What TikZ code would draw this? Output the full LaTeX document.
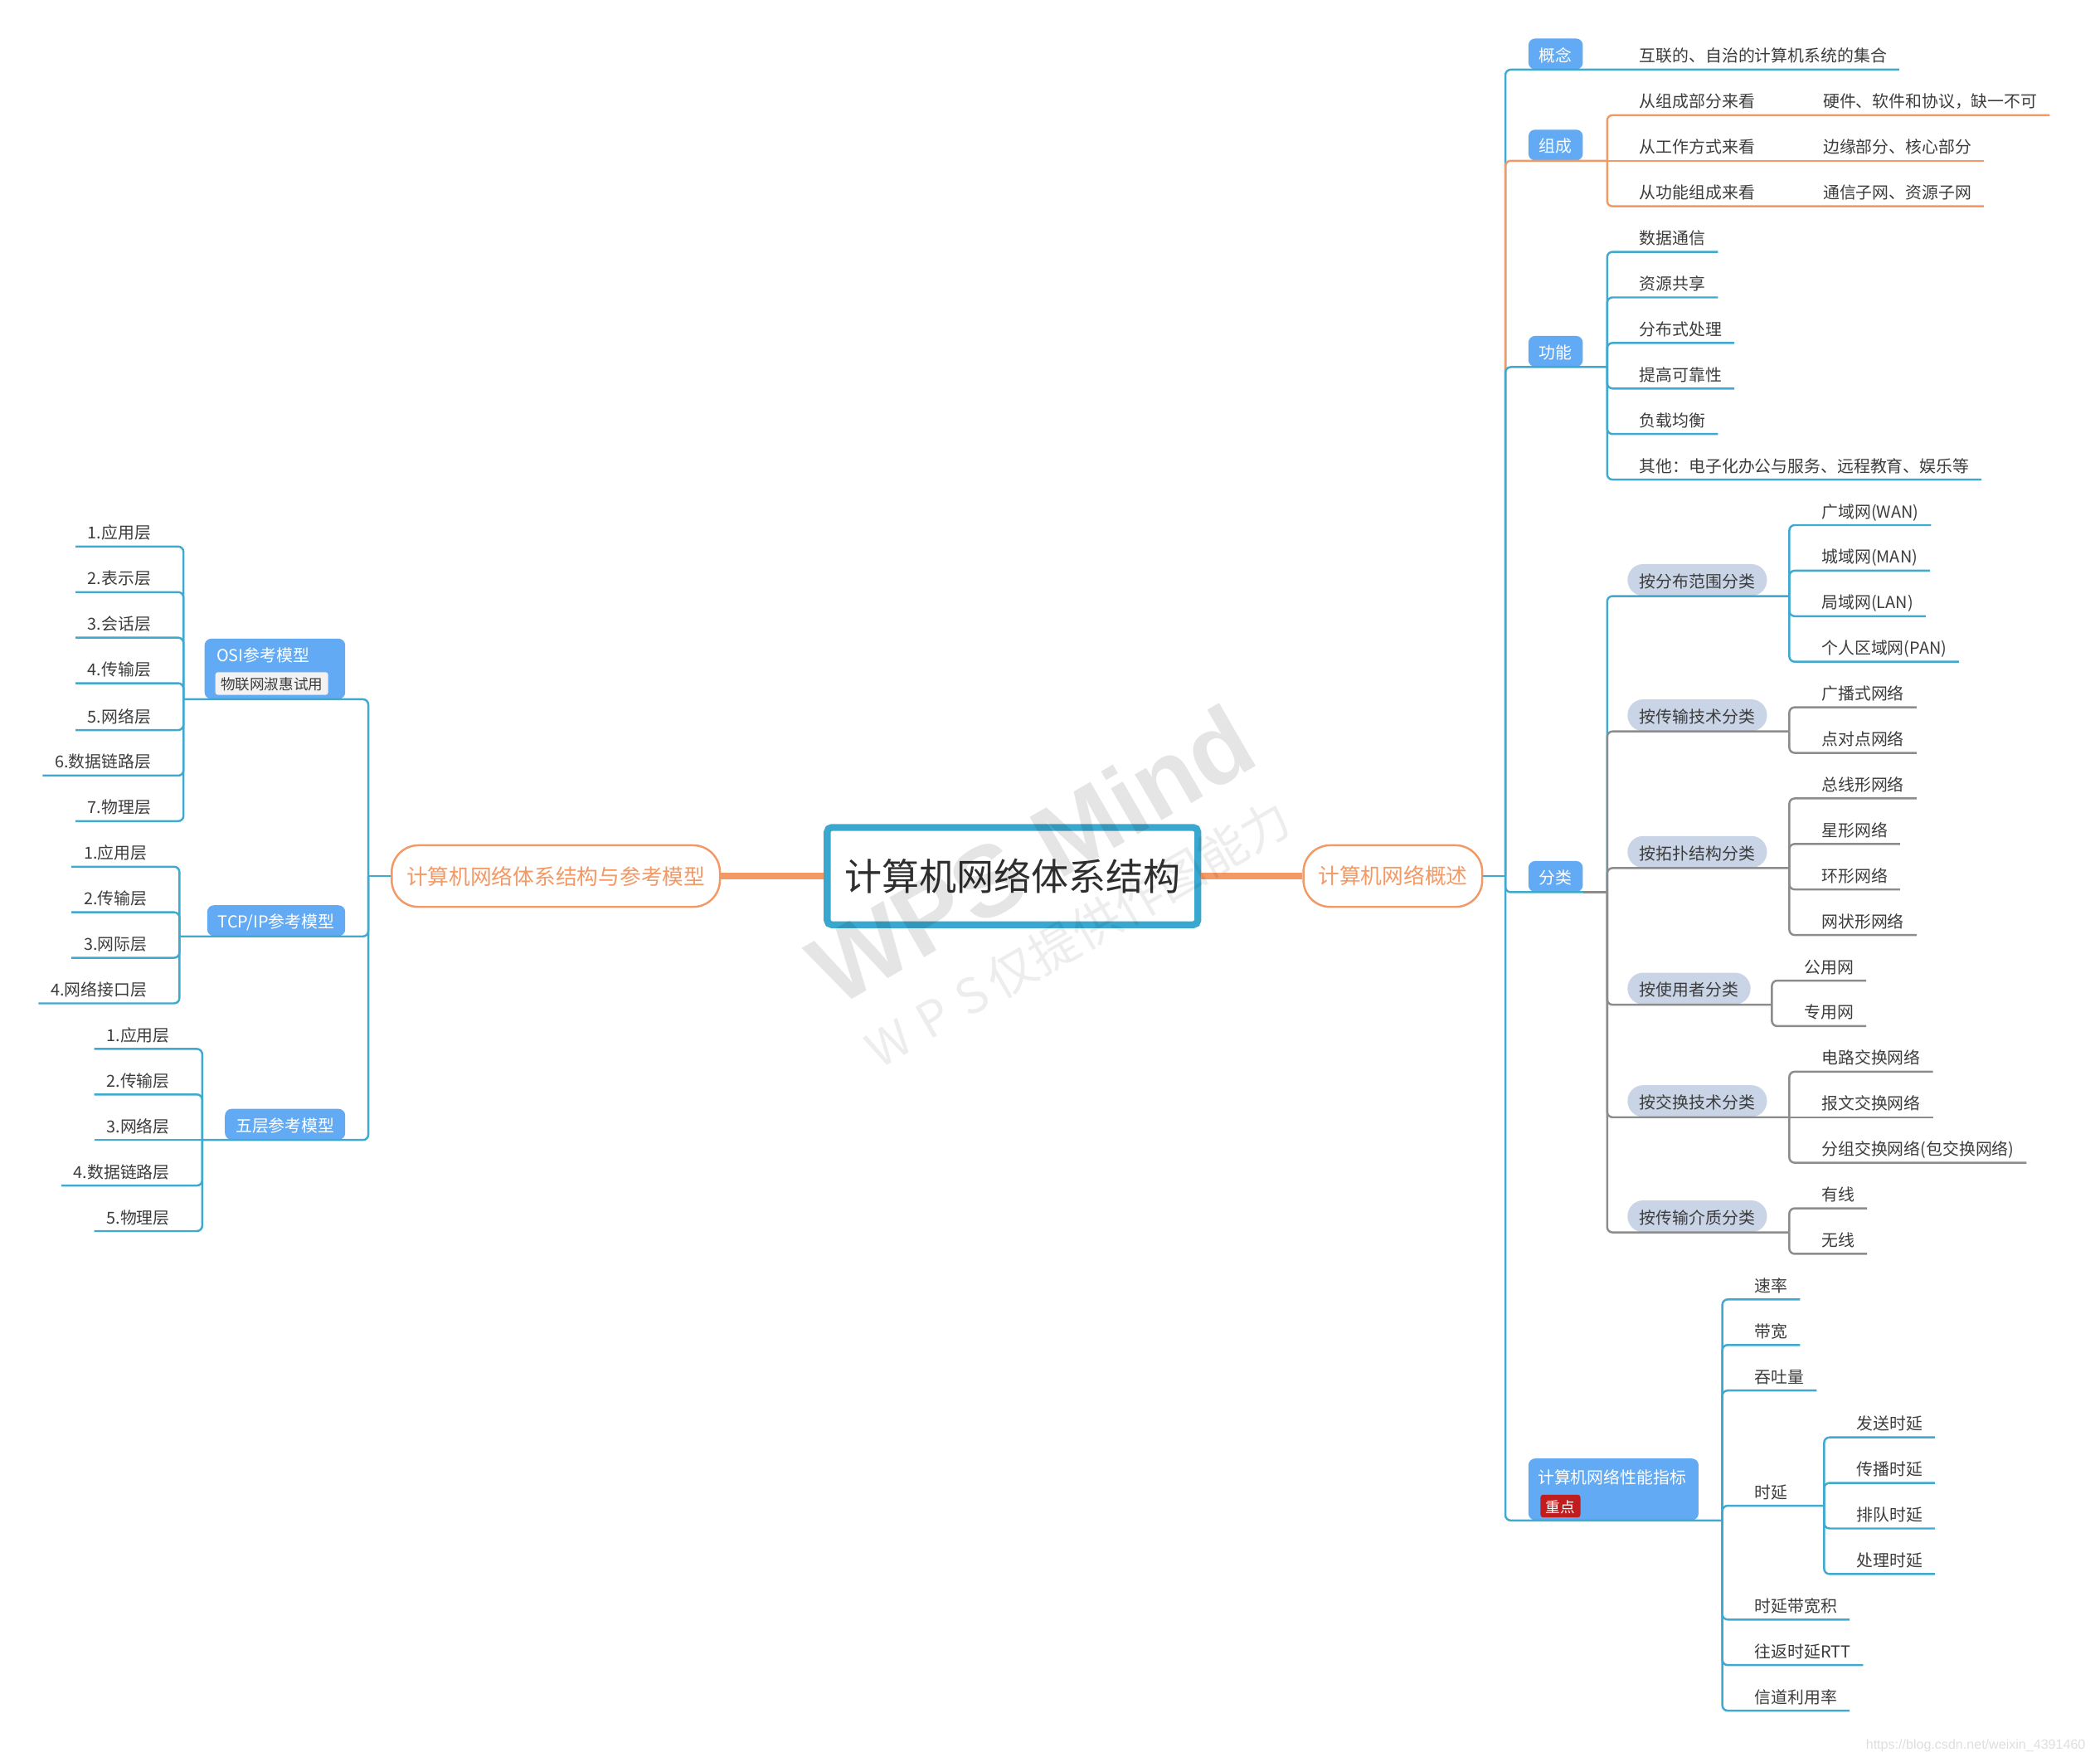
\documentclass[tikz,border=0pt]{standalone}
\usepackage{fontspec}
\setmainfont{Noto Sans CJK SC}
\newfontfamily\wmlatin{Liberation Sans}
\usetikzlibrary{positioning}
\definecolor{lineblue}{RGB}{64,169,208}
\definecolor{lineorange}{RGB}{242,153,101}
\definecolor{linegray}{RGB}{140,140,140}
\definecolor{boxblue}{RGB}{99,170,245}
\definecolor{pillblue}{RGB}{201,212,230}
\definecolor{txtgray}{RGB}{60,60,60}
\definecolor{rootblue}{RGB}{58,168,206}
\definecolor{badgered}{RGB}{192,30,30}
\definecolor{badgegray}{RGB}{242,242,242}
\begin{document}
\begin{tikzpicture}[x=0.03cm,y=-0.03cm,
		leaf/.style={font=\fontsize{10.5}{12}\selectfont, text=txtgray, inner xsep=0.27cm, inner ysep=0.08cm, text height=0.3cm, text depth=0.08cm},
		rleaf/.style={leaf, anchor=south west},
		lleaf/.style={leaf, anchor=south east},
		topic/.style={fill=boxblue, text=white, rounded corners=0.15cm, font=\fontsize{10.5}{12}\selectfont, inner xsep=0.24cm, inner ysep=0pt, minimum height=0.69cm, text height=0.36cm, text depth=0.02cm},
		pill/.style={fill=pillblue, text=txtgray, rounded corners=0.35cm, font=\fontsize{10.5}{12}\selectfont, inner xsep=0.27cm, inner ysep=0pt, minimum height=0.71cm, text height=0.36cm, text depth=0.02cm, anchor=south west},
		branch/.style={draw=lineorange, line width=1.3pt, fill=white, rounded corners=0.6cm, text=lineorange, font=\fontsize{13.6}{16}\selectfont, inner xsep=0.33cm, minimum height=1.38cm},
		badge/.style={rounded corners=0.06cm, font=\fontsize{9.3}{11}\selectfont, inner xsep=0.12cm, inner ysep=0pt, minimum height=0.51cm, text height=0.3cm, text depth=0.02cm},
		bline/.style={draw=lineblue, line width=1.3pt, rounded corners=0.12cm},
		oline/.style={draw=lineorange, line width=1.3pt, rounded corners=0.12cm},
		gline/.style={draw=linegray, line width=1.3pt, rounded corners=0.12cm},
		mainlink/.style={draw=lineorange, line width=3.9pt}]
	\useasboundingbox (0,0) rectangle (1568,1315);
	\node (root) [draw=rootblue, line width=4.4pt, rounded corners=0.1cm, fill=white, minimum width=8.3cm, minimum height=2.18cm, font=\fontsize{23.8}{28}\selectfont, text=black!82] at (756,654) {计算机网络体系结构};
	\node (rc) [branch] at (1040,654) {计算机网络概述};
	\node (lc) [branch] at (415,654) {计算机网络体系结构与参考模型};
	\draw[mainlink] (root.east) -- (rc.west);
	\draw[mainlink] (root.west) -- (lc.east);
	\coordinate (rj) at (1124,654);
	\coordinate (lj) at (275,654);
	\draw[bline] (rc.east) -- (rj);
	\draw[bline] (lc.west) -- (lj);

	\node (con) [topic, anchor=south west] at (1141,52) {概念};
	\node (con1) [rleaf] at (1215,52) {互联的、自治的计算机系统的集合};
	\draw[bline] (rj) |- (con1.south east);

	\node (comp) [topic, anchor=south west] at (1141,120) {组成};
	\coordinate (compj) at (1200,120);
	\node (comp1) [rleaf] at (1215,86) {从组成部分来看};
	\node (comp1a) [rleaf] at (1352,86) {硬件、软件和协议，缺一不可};
	\node (comp2) [rleaf] at (1215,120) {从工作方式来看};
	\node (comp2a) [rleaf] at (1352,120) {边缘部分、核心部分};
	\node (comp3) [rleaf] at (1215,154) {从功能组成来看};
	\node (comp3a) [rleaf] at (1352,154) {通信子网、资源子网};
	\draw[oline] (rj) |- (comp.south west) -- (compj);
	\draw[oline] (compj) |- (comp1.south east) -- (comp1a.south east);
	\draw[oline] (compj) -- (comp2.south east) -- (comp2a.south east);
	\draw[oline] (compj) |- (comp3.south east) -- (comp3a.south east);

	\node (func) [topic, anchor=south west] at (1141,274) {功能};
	\coordinate (funcj) at (1200,274);
	\node (func1) [rleaf] at (1215,188) {数据通信};
	\node (func2) [rleaf] at (1215,222) {资源共享};
	\node (func3) [rleaf] at (1215,256) {分布式处理};
	\node (func4) [rleaf] at (1215,290) {提高可靠性};
	\node (func5) [rleaf] at (1215,324) {负载均衡};
	\node (func6) [rleaf] at (1215,358) {其他：电子化办公与服务、远程教育、娱乐等};
	\draw[bline] (rj) |- (func.south west) -- (funcj);
	\draw[bline] (funcj) |- (func1.south east);
	\draw[bline] (funcj) |- (func2.south east);
	\draw[bline] (funcj) |- (func3.south east);
	\draw[bline] (funcj) |- (func4.south east);
	\draw[bline] (funcj) |- (func5.south east);
	\draw[bline] (funcj) |- (func6.south east);

	\node (cls) [topic, anchor=south west] at (1141,666) {分类};
	\coordinate (clsj) at (1200,666);
	\draw[bline] (rj) |- (cls.south east);
	\draw[gline] (cls.south east) -- (clsj);
	\node (cls1) [pill] at (1215,445) {按分布范围分类};
	\coordinate (cls1j) at (1336,445);
	\node (cls1a) [rleaf] at (1351,392) {广域网(WAN)};
	\node (cls1b) [rleaf] at (1351,426) {城域网(MAN)};
	\node (cls1c) [rleaf] at (1351,460) {局域网(LAN)};
	\node (cls1d) [rleaf] at (1351,494) {个人区域网(PAN)};
	\draw[bline] (clsj) |- (cls1.south east) -- (cls1j);
	\draw[bline] (cls1j) |- (cls1a.south east);
	\draw[bline] (cls1j) |- (cls1b.south east);
	\draw[bline] (cls1j) |- (cls1c.south east);
	\draw[bline] (cls1j) |- (cls1d.south east);
	\node (cls2) [pill] at (1215,546) {按传输技术分类};
	\coordinate (cls2j) at (1336,546);
	\node (cls2a) [rleaf] at (1351,528) {广播式网络};
	\node (cls2b) [rleaf] at (1351,562) {点对点网络};
	\draw[gline] (clsj) |- (cls2.south east) -- (cls2j);
	\draw[gline] (cls2j) |- (cls2a.south east);
	\draw[gline] (cls2j) |- (cls2b.south east);
	\node (cls3) [pill] at (1215,648) {按拓扑结构分类};
	\coordinate (cls3j) at (1336,648);
	\node (cls3a) [rleaf] at (1351,596) {总线形网络};
	\node (cls3b) [rleaf] at (1351,630) {星形网络};
	\node (cls3c) [rleaf] at (1351,664) {环形网络};
	\node (cls3d) [rleaf] at (1351,698) {网状形网络};
	\draw[gline] (clsj) |- (cls3.south east) -- (cls3j);
	\draw[gline] (cls3j) |- (cls3a.south east);
	\draw[gline] (cls3j) |- (cls3b.south east);
	\draw[gline] (cls3j) |- (cls3c.south east);
	\draw[gline] (cls3j) |- (cls3d.south east);
	\node (cls4) [pill] at (1215,750) {按使用者分类};
	\coordinate (cls4j) at (1323,750);
	\node (cls4a) [rleaf] at (1338,732) {公用网};
	\node (cls4b) [rleaf] at (1338,766) {专用网};
	\draw[gline] (clsj) |- (cls4.south east) -- (cls4j);
	\draw[gline] (cls4j) |- (cls4a.south east);
	\draw[gline] (cls4j) |- (cls4b.south east);
	\node (cls5) [pill] at (1215,834) {按交换技术分类};
	\coordinate (cls5j) at (1336,834);
	\node (cls5a) [rleaf] at (1351,800) {电路交换网络};
	\node (cls5b) [rleaf] at (1351,834) {报文交换网络};
	\node (cls5c) [rleaf] at (1351,868) {分组交换网络(包交换网络)};
	\draw[gline] (clsj) |- (cls5.south east) -- (cls5j);
	\draw[gline] (cls5j) |- (cls5a.south east);
	\draw[gline] (cls5j) -- (cls5b.south east);
	\draw[gline] (cls5j) |- (cls5c.south east);
	\node (cls6) [pill] at (1215,920) {按传输介质分类};
	\coordinate (cls6j) at (1336,920);
	\node (cls6a) [rleaf] at (1351,902) {有线};
	\node (cls6b) [rleaf] at (1351,936) {无线};
	\draw[gline] (clsj) |- (cls6.south east) -- (cls6j);
	\draw[gline] (cls6j) |- (cls6a.south east);
	\draw[gline] (cls6j) |- (cls6b.south east);

	\node (perf) [topic, anchor=south west, minimum width=3.81cm, minimum height=1.38cm] at (1141,1135) {};
	\node (perft) [anchor=west, inner sep=0pt, text=white, font=\fontsize{10.5}{12}\selectfont] at ([shift={(0.21cm,-0.42cm)}]perf.north west) {计算机网络性能指标};
	\node (perfb) [badge, fill=badgered, text=white, below right=0.81cm and 0.27cm of perf.north west] {重点};
	\coordinate (perfj) at (1286,1135);
	\node (perf1) [rleaf] at (1301,970) {速率};
	\node (perf2) [rleaf] at (1301,1004) {带宽};
	\node (perf3) [rleaf] at (1301,1038) {吞吐量};
	\node (perf4) [rleaf] at (1301,1124) {时延};
	\node (perf5) [rleaf] at (1301,1209) {时延带宽积};
	\node (perf6) [rleaf] at (1301,1243) {往返时延RTT};
	\node (perf7) [rleaf] at (1301,1277) {信道利用率};
	\coordinate (perf4j) at (1362,1124);
	\node (perf4a) [rleaf] at (1377,1073) {发送时延};
	\node (perf4b) [rleaf] at (1377,1107) {传播时延};
	\node (perf4c) [rleaf] at (1377,1141) {排队时延};
	\node (perf4d) [rleaf] at (1377,1175) {处理时延};
	\draw[bline] (rj) |- (perf.south east) -- (perfj);
	\draw[bline] (perfj) |- (perf1.south east);
	\draw[bline] (perfj) |- (perf2.south east);
	\draw[bline] (perfj) |- (perf3.south east);
	\draw[bline] (perfj) |- (perf4.south east) -- (perf4j);
	\draw[bline] (perfj) |- (perf5.south east);
	\draw[bline] (perfj) |- (perf6.south east);
	\draw[bline] (perfj) |- (perf7.south east);
	\draw[bline] (perf4j) |- (perf4a.south east);
	\draw[bline] (perf4j) |- (perf4b.south east);
	\draw[bline] (perf4j) |- (perf4c.south east);
	\draw[bline] (perf4j) |- (perf4d.south east);

	\node (osi) [topic, anchor=south east, minimum width=3.15cm, minimum height=1.35cm] at (258,522) {};
	\node (osit) [anchor=west, inner sep=0pt, text=white, font=\fontsize{10.5}{12}\selectfont] at ([shift={(0.27cm,-0.38cm)}]osi.north west) {OSI参考模型};
	\node (osib) [badge, fill=badgegray, text=txtgray, below right=0.75cm and 0.24cm of osi.north west] {物联网淑惠试用};
	\coordinate (osij) at (137,522);
	\node (osi1) [lleaf] at (122,408) {1.应用层};
	\node (osi2) [lleaf] at (122,442) {2.表示层};
	\node (osi3) [lleaf] at (122,476) {3.会话层};
	\node (osi4) [lleaf] at (122,510) {4.传输层};
	\node (osi5) [lleaf] at (122,545) {5.网络层};
	\node (osi6) [lleaf] at (122,579) {6.数据链路层};
	\node (osi7) [lleaf] at (122,613) {7.物理层};
	\draw[bline] (lj) |- (osi.south east) -- (osij);
	\draw[bline] (osij) |- (osi1.south west);
	\draw[bline] (osij) |- (osi2.south west);
	\draw[bline] (osij) |- (osi3.south west);
	\draw[bline] (osij) |- (osi4.south west);
	\draw[bline] (osij) |- (osi5.south west);
	\draw[bline] (osij) |- (osi6.south west);
	\draw[bline] (osij) |- (osi7.south west);

	\node (tcp) [topic, anchor=south east] at (258,699) {TCP/IP参考模型};
	\coordinate (tcpj) at (134,699);
	\node (tcp1) [lleaf] at (119,647) {1.应用层};
	\node (tcp2) [lleaf] at (119,681) {2.传输层};
	\node (tcp3) [lleaf] at (119,715) {3.网际层};
	\node (tcp4) [lleaf] at (119,749) {4.网络接口层};
	\draw[bline] (lj) |- (tcp.south east) -- (tcpj);
	\draw[bline] (tcpj) |- (tcp1.south west);
	\draw[bline] (tcpj) |- (tcp2.south west);
	\draw[bline] (tcpj) |- (tcp3.south west);
	\draw[bline] (tcpj) |- (tcp4.south west);

	\node (five) [topic, anchor=south east] at (258,851) {五层参考模型};
	\coordinate (fivej) at (151,851);
	\node (five1) [lleaf] at (136,783) {1.应用层};
	\node (five2) [lleaf] at (136,817) {2.传输层};
	\node (five3) [lleaf] at (136,851) {3.网络层};
	\node (five4) [lleaf] at (136,885) {4.数据链路层};
	\node (five5) [lleaf] at (136,919) {5.物理层};
	\draw[bline] (lj) |- (five.south east) -- (fivej);
	\draw[bline] (fivej) |- (five1.south west);
	\draw[bline] (fivej) |- (five2.south west);
	\draw[bline] (fivej) -- (five3.south west);
	\draw[bline] (fivej) |- (five4.south west);
	\draw[bline] (fivej) |- (five5.south west);

	\node (wm1) [rotate=30, font=\wmlatin\bfseries\fontsize{64}{64}\selectfont, text=black, text opacity=0.1] at (770,638) {WPS Mind};
	\node (wm2) [rotate=30, font=\fontsize{31}{31}\selectfont, text=black, text opacity=0.07] at (805,697) {W\hspace{0.3em}P\hspace{0.3em}S\hspace{0.15em}仅提供作图能力};
	\node (url) [anchor=west, inner sep=0pt, font=\wmlatin\fontsize{8.5}{10}\selectfont, text=black!13] at (1393,1303) {https://blog.csdn.net/weixin\_4391460};
\end{tikzpicture}
\end{document}
